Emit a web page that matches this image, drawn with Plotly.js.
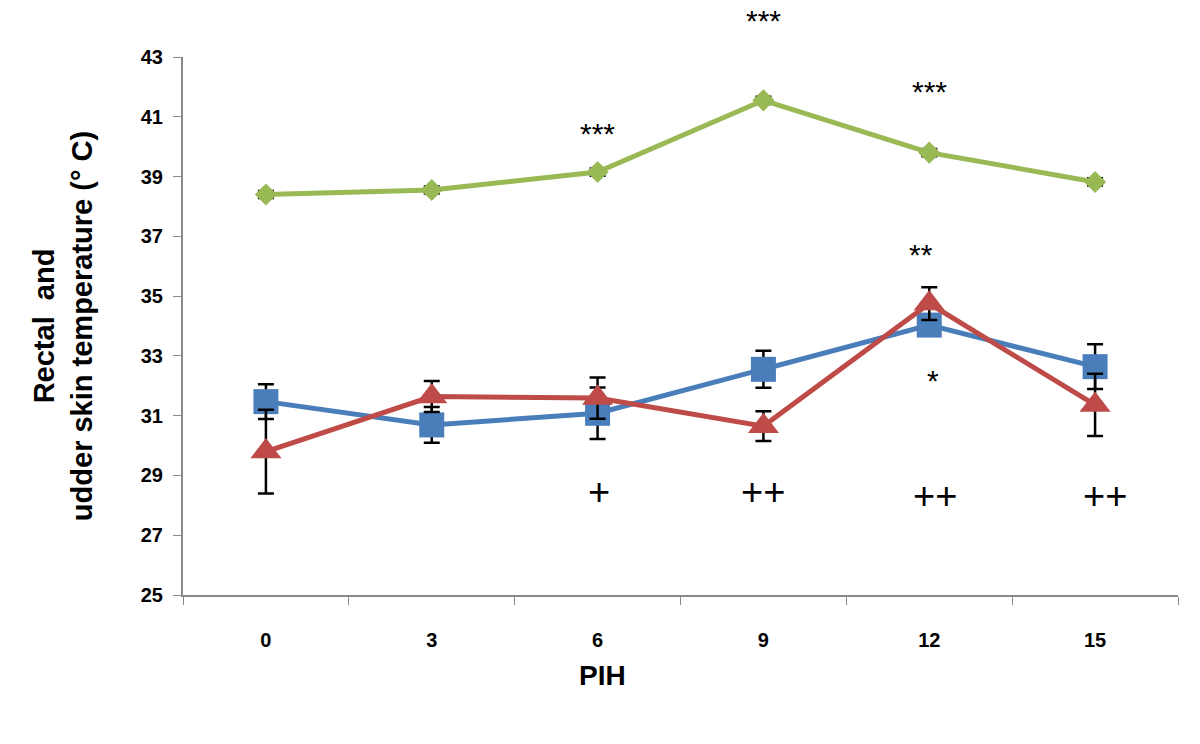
<!DOCTYPE html>
<html>
<head>
<meta charset="utf-8">
<script src="https://cdn.plot.ly/plotly-3.0.1.min.js"></script>
<style>
  html, body { margin: 0; padding: 0; background: #fff; }
  #chart { width: 1200px; height: 744px; }
</style>
</head>
<body>
<div id="chart"></div>
<script>
// PIH time points (category axis)
const pih = ['0', '3', '6', '9', '12', '15'];

// Series values
const rectal = [38.4, 38.55, 39.15, 41.55, 39.8, 38.82];
const rectalErr = [0.12, 0.12, 0.12, 0.12, 0.12, 0.12];

const skinBlue = [31.47, 30.69, 31.08, 32.55, 34.03, 32.64];
const skinBlueErr = [0.58, 0.6, 0.86, 0.62, 0.36, 0.75];

const skinRed = [29.8, 31.64, 31.59, 30.65, 34.75, 31.36];
const skinRedErr = [1.4, 0.52, 0.69, 0.5, 0.55, 1.04];

// Significance marks (the 9 PIH "***" sits above the plot top)
const markText = ['***', '***', '***', '**', '*', '+', '++', '++', '++'];
const markX = ['6', '9', '12', '12', '12', '6', '9', '12', '15'];
const markY = [40.5, 43, 41.9, 36.45, 32.25, 28.45, 28.45, 28.3, 28.3];
const markXShift = [0, 0, 0, -8, 4, 1, 0, 6, 10];
const markYShift = [0, 39, 0, 0, 0, 0, 0, 0, 0];

const FONT = '"Liberation Sans", Arial, sans-serif';
const AXIS_GRAY = '#898989';

function errBar(arr) {
    return { type: 'data', array: arr, visible: true, color: '#000', thickness: 2.5, width: 8 };
}

const traces = [
    {
        type: 'scatter', mode: 'lines+markers', x: pih, y: skinBlue,
        error_y: errBar(skinBlueErr),
        line: { color: '#4a7ebb', width: 5 },
        marker: { symbol: 'square', size: 25, color: '#4a7ebb' },
        name: 'Udder skin (a)', showlegend: false
    },
    {
        type: 'scatter', mode: 'lines+markers', x: pih, y: skinRed,
        error_y: errBar(skinRedErr),
        line: { color: '#be4b48', width: 5 },
        marker: { symbol: 'triangle-up', size: 27, color: '#be4b48' },
        name: 'Udder skin (b)', showlegend: false
    },
    {
        type: 'scatter', mode: 'lines+markers', x: pih, y: rectal,
        error_y: errBar(rectalErr),
        line: { color: '#98b954', width: 5 },
        marker: { symbol: 'diamond', size: 17, color: '#98b954' },
        name: 'Rectal', showlegend: false
    }
];

// category axes take annotation x as the category index
const annotations = markText.map((t, i) => {
    const plus = t.includes('+');
    return {
        x: pih.indexOf(markX[i]), y: markY[i], xref: 'x', yref: 'y',
        text: t, showarrow: false,
        xshift: markXShift[i], yshift: markYShift[i] + (plus ? 0 : -2),
        font: { family: FONT, size: plus ? 38 : 30, color: '#000' }
    };
});

annotations.push({
    xref: 'paper', yref: 'paper', x: 0.422, y: -0.149,
    xanchor: 'center', yanchor: 'middle', showarrow: false,
    text: 'PIH',
    font: { family: FONT, size: 28, color: '#000', weight: 'bold' }
});

const layout = {
    width: 1200, height: 744,
    margin: { l: 183, r: 22, t: 57, b: 149 },
    paper_bgcolor: '#fff', plot_bgcolor: '#fff',
    showlegend: false,
    xaxis: {
        type: 'category', range: [-0.5, 5.5],
        tickson: 'boundaries', ticks: 'outside', ticklen: 8, tickcolor: AXIS_GRAY,
        showline: true, linecolor: AXIS_GRAY, linewidth: 2,
        showgrid: false, zeroline: false,
        ticklabelstandoff: 26,
        tickfont: { family: FONT, size: 20, color: '#000', weight: 'bold' }
    },
    yaxis: {
        range: [25, 43], dtick: 2, tick0: 25,
        ticks: 'outside', ticklen: 8, tickcolor: AXIS_GRAY,
        showline: true, linecolor: AXIS_GRAY, linewidth: 2,
        showgrid: false, zeroline: false,
        ticklabelstandoff: 6,
        tickfont: { family: FONT, size: 20, color: '#000', weight: 'bold' },
        title: {
            text: 'Rectal\u00a0 and<br>udder skin temperature (° C)',
            standoff: 40,
            font: { family: FONT, size: 29, color: '#000', weight: 'bold' }
        }
    },
    annotations: annotations
};

Plotly.newPlot('chart', traces, layout, { displayModeBar: false, staticPlot: true });
</script>
</body>
</html>
